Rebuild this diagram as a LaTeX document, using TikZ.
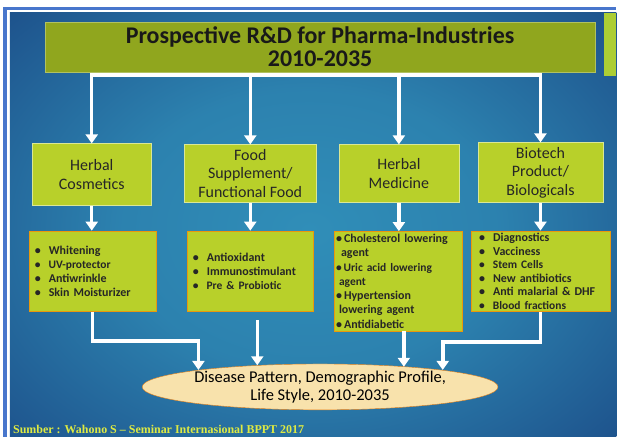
\documentclass[tikz,border=0pt]{standalone}
\usepackage{fontspec}
\setmainfont{Carlito}
\newfontfamily\srcfont{Liberation Serif}
\usetikzlibrary{shapes.geometric, arrows.meta, positioning, calc}
\definecolor{slidenavy}{RGB}{22,58,122}
\definecolor{slideteal}{RGB}{48,142,184}
\definecolor{frameblue}{RGB}{72,118,204}
\definecolor{titlegreen}{RGB}{144,166,30}
\definecolor{boxgreen}{RGB}{184,208,42}
\definecolor{stripgreen}{RGB}{172,206,52}
\definecolor{peach}{RGB}{248,226,172}
\definecolor{srcyellow}{RGB}{222,234,66}
\pgfdeclareradialshading{slidebg}{\pgfpoint{0bp}{0bp}}{color(0bp)=(slideteal); color(14bp)=(slideteal!85!slidenavy); color(40bp)=(slidenavy); color(50bp)=(slidenavy)}

\begin{document}
\begin{tikzpicture}[x=1pt, y=-1pt,
        titlebox/.style={draw=titlegreen!70!white, fill=titlegreen, minimum width=552pt, minimum height=50pt, align=center, text=black!90, font=\bfseries\fontsize{24}{22.5}\selectfont},
        catbox/.style={draw=boxgreen!50!white, fill=boxgreen, align=center, text=black!85, inner sep=2pt, font=\fontsize{16}{18.5}\selectfont},
        listbox/.style={draw=orange!70!boxgreen, fill=boxgreen, align=left, text=black!85, inner xsep=6pt, font=\bfseries\fontsize{12}{14}\selectfont},
        wline/.style={draw=white, line width=3.5pt},
        warrow/.style={wline, -{Triangle[width=12pt,length=9pt]}}
    ]
        % Slide background
        \fill[white] (0,0) rectangle (618,438);
        \begin{scope}
            \clip (10,13) rectangle (618,438);
            \shade[shading=slidebg] (-30,-20) rectangle (650,480);
        \end{scope}
        \draw[frameblue, line width=3.5pt] (5,438) -- (5,8.5) -- (618,8.5);
        \fill[stripgreen] (606,13) rectangle (618,76);

        % Title
        \node[titlebox] (title) at (321,47) {Prospective R\&D for Pharma-Industries\\2010-2035};

        % Categories
        \node[catbox, minimum width=120pt, minimum height=62pt] (cos) at (92,175) {Herbal\\Cosmetics};
        \node[catbox, minimum width=132pt, minimum height=58pt] (food) at (251,174) {Food\\Supplement/\\Functional Food};
        \node[catbox, minimum width=120pt, minimum height=58pt] (med) at (400,174) {Herbal\\Medicine};
        \node[catbox, minimum width=125pt, minimum height=60pt] (bio) at (542,173) {Biotech\\Product/\\Biologicals};

        % Lists
        \node[listbox, text width=116pt, minimum height=81pt] (cosL) at (93,272) {\textbullet~ Whitening\\{\fontsize{11.5}{14}\selectfont\textbullet~ UV-protector}\\\textbullet~ Antiwrinkle\\\textbullet~ Skin Moisturizer};
        \node[listbox, text width=115pt, minimum height=81pt] (foodL) at (251,272) {\textbullet~ Antioxidant\\\textbullet~ Immunostimulant\\{\fontsize{11.5}{14}\selectfont\textbullet~ Pre \& Probiotic}};
        \node[listbox, text width=124pt, inner xsep=2pt, inner ysep=1pt, minimum height=100pt, font=\bfseries\fontsize{12}{14.3}\selectfont] (medL) at (399,282) {\textbullet\,Cholesterol lowering\\\hspace*{5pt}agent\\{\fontsize{11.5}{14.3}\selectfont\textbullet\,Uric acid lowering}\\{\fontsize{11.5}{14.3}\selectfont\hspace*{3pt}agent}\\\textbullet\,Hypertension\\\hspace*{3pt}lowering agent\\\textbullet\,Antidiabetic};
        \node[listbox, text width=123pt, inner xsep=8pt, inner ysep=1pt, minimum height=81pt, font=\bfseries\fontsize{12}{13.6}\selectfont] (bioL) at (542,272) {\textbullet~ Diagnostics\\\textbullet~ Vacciness\\{\fontsize{11.5}{13.6}\selectfont\textbullet~ Stem Cells}\\\textbullet~ New antibiotics\\\textbullet~ Anti malarial \& DHF\\{\fontsize{11.5}{13.6}\selectfont\textbullet~ Blood fractions}};

        % Target
        \node[ellipse, draw=orange!60!brown, fill=peach, minimum width=352pt, minimum height=46pt, inner sep=0pt, align=center, font=\fontsize{16.5}{18}\selectfont] (dis) at (321,388) {Disease Pattern, Demographic Profile,\\Life Style, 2010-2035};

        % Source
        \node[anchor=west, inner xsep=1pt, text=srcyellow, font=\srcfont\bfseries\fontsize{12}{13}\selectfont] (src) at (12,431) {Sumber : Wahono S – Seminar Internasional BPPT 2017};

        % Connectors
        \coordinate (bus) at (0,75);
        \draw[wline, line cap=rect] (cos.north |- bus) -- (bio.north |- bus);
        \foreach \n in {cos, food, med, bio} {
            \draw[warrow] (\n.north |- bus) -- (\n.north);
            \draw[warrow] (\n.south) -- (\n.south |- \n L.north);
        }
        \coordinate (jL) at (199,342);
        \coordinate (jR) at (444,343);
        \coordinate (fS) at (258,321);
        \coordinate (mS) at (405,332);
        \draw[warrow] (cosL.south) |- (jL) -- (jL |- dis.172);
        \draw[warrow] (fS) -- (fS |- dis.161);
        \draw[warrow] (mS) -- (mS |- dis.13);
        \draw[warrow] (bioL.south) |- (jR) -- (jR |- dis.8);

    \end{tikzpicture}
\end{document}
